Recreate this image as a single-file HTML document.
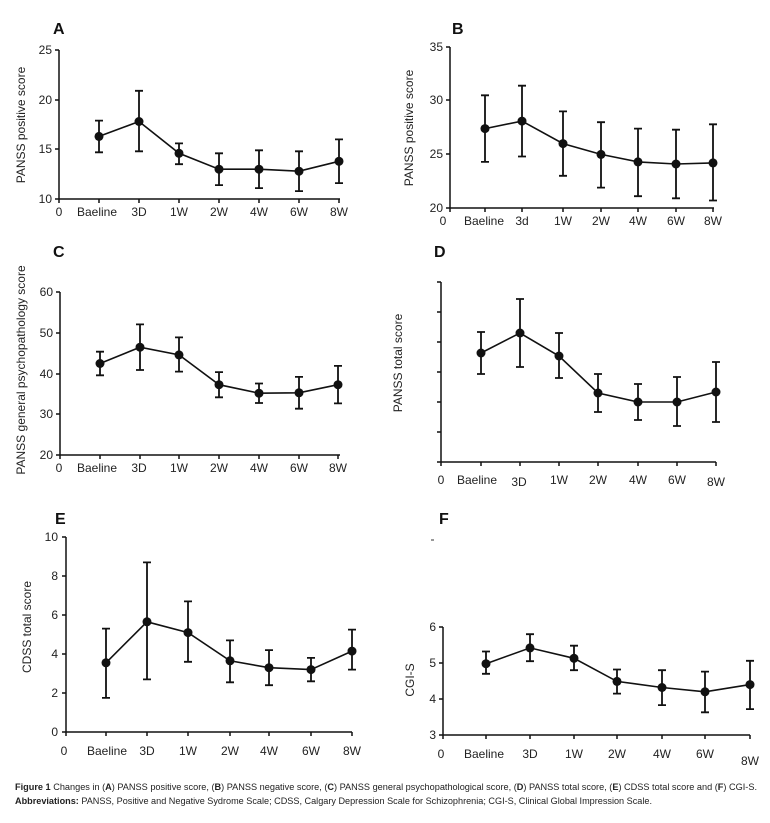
<!DOCTYPE html>
<html><head><meta charset="utf-8"><style>
html,body{margin:0;padding:0;background:#fff;}
svg{display:block;font-family:"Liberation Sans",Arial,sans-serif;}
.t{font-size:12px;fill:#222;}
.ax{stroke:#111;stroke-width:1.5;fill:none;}
.ln{stroke:#111;stroke-width:1.6;fill:none;}
.eb{stroke:#111;stroke-width:1.8;fill:none;}
.lab{font-size:16px;font-weight:bold;fill:#111;}
.yt{font-size:12px;fill:#222;}
</style></head><body>
<svg width="770" height="823" viewBox="0 0 770 823" xmlns="http://www.w3.org/2000/svg">
<rect width="770" height="823" fill="#fff"/>

<!-- A -->
<text class="lab" x="53" y="34">A</text>
<path class="ax" d="M59,50V199H340M55,50H59M55,100H59M55,149H59M55,199H59M59,199v4M99,199v4M139,199v4M179,199v4M219,199v4M259,199v4M299,199v4M339,199v4"/>
<g class="t" text-anchor="end"><text x="52" y="54">25</text><text x="52" y="104">20</text><text x="52" y="153">15</text><text x="52" y="203">10</text></g>
<g class="t" text-anchor="middle"><text x="59" y="216">0</text><text x="97" y="216">Baeline</text><text x="139" y="216">3D</text><text x="179" y="216">1W</text><text x="219" y="216">2W</text><text x="259" y="216">4W</text><text x="299" y="216">6W</text><text x="339" y="216">8W</text></g>
<text class="yt" transform="translate(25,125) rotate(-90)" text-anchor="middle">PANSS positive score</text>
<path class="eb" d="M99,120.6V152.3M95,120.6h8M95,152.3h8 M139,90.8V151.3M135,90.8h8M135,151.3h8 M179,143.4V164.2M175,143.4h8M175,164.2h8 M219,153.3V185.1M215,153.3h8M215,185.1h8 M259,150.3V188.1M255,150.3h8M255,188.1h8 M299,151.3V191.1M295,151.3h8M295,191.1h8 M339,139.4V183.1M335,139.4h8M335,183.1h8"/>
<polyline class="ln" points="99,136.4 139,121.5 179,153.3 219,169.2 259,169.2 299,171.2 339,161.3"/>
<g fill="#111"><circle cx="99" cy="136.4" r="4.5"/><circle cx="139" cy="121.5" r="4.5"/><circle cx="179" cy="153.3" r="4.5"/><circle cx="219" cy="169.2" r="4.5"/><circle cx="259" cy="169.2" r="4.5"/><circle cx="299" cy="171.2" r="4.5"/><circle cx="339" cy="161.3" r="4.5"/></g>

<!-- B -->
<text class="lab" x="452" y="34">B</text>
<path class="ax" d="M450,47V208H714M446,47H450M446,100H450M446,154H450M446,208H450M450,208v4M485,208v4M522,208v4M563,208v4M601,208v4M638,208v4M676,208v4M713,208v4"/>
<g class="t" text-anchor="end"><text x="443" y="51">35</text><text x="443" y="104">30</text><text x="443" y="158">25</text><text x="443" y="212">20</text></g>
<g class="t" text-anchor="middle"><text x="443" y="225">0</text><text x="484" y="225">Baeline</text><text x="522" y="225">3d</text><text x="563" y="225">1W</text><text x="601" y="225">2W</text><text x="638" y="225">4W</text><text x="676" y="225">6W</text><text x="713" y="225">8W</text></g>
<text class="yt" transform="translate(413,128) rotate(-90)" text-anchor="middle">PANSS positive score</text>
<path class="eb" d="M485,95.3V161.9M481,95.3h8M481,161.9h8 M522,85.7V156.5M518,85.7h8M518,156.5h8 M563,111.4V175.8M559,111.4h8M559,175.8h8 M601,122.2V187.6M597,122.2h8M597,187.6h8 M638,128.6V196.2M634,128.6h8M634,196.2h8 M676,129.7V198.3M672,129.7h8M672,198.3h8 M713,124.3V200.5M709,124.3h8M709,200.5h8"/>
<polyline class="ln" points="485,128.6 522,121.1 563,143.6 601,154.4 638,161.9 676,164 713,162.9"/>
<g fill="#111"><circle cx="485" cy="128.6" r="4.5"/><circle cx="522" cy="121.1" r="4.5"/><circle cx="563" cy="143.6" r="4.5"/><circle cx="601" cy="154.4" r="4.5"/><circle cx="638" cy="161.9" r="4.5"/><circle cx="676" cy="164" r="4.5"/><circle cx="713" cy="162.9" r="4.5"/></g>

<!-- C -->
<text class="lab" x="53" y="257">C</text>
<path class="ax" d="M60,292V455H340M56,292H60M56,333H60M56,374H60M56,414H60M56,455H60M60,455v4M100,455v4M140,455v4M179,455v4M219,455v4M259,455v4M299,455v4M338,455v4"/>
<g class="t" text-anchor="end"><text x="53" y="296">60</text><text x="53" y="337">50</text><text x="53" y="378">40</text><text x="53" y="418">30</text><text x="53" y="459">20</text></g>
<g class="t" text-anchor="middle"><text x="59" y="472">0</text><text x="97" y="472">Baeline</text><text x="139" y="472">3D</text><text x="179" y="472">1W</text><text x="219" y="472">2W</text><text x="259" y="472">4W</text><text x="299" y="472">6W</text><text x="338" y="472">8W</text></g>
<text class="yt" transform="translate(25,370) rotate(-90)" text-anchor="middle">PANSS general psychopathology score</text>
<path class="eb" d="M100,351.7V375.3M96,351.7h8M96,375.3h8 M140,324.4V370M136,324.4h8M136,370h8 M179,337.4V371.6M175,337.4h8M175,371.6h8 M219,372.1V397.3M215,372.1h8M215,397.3h8 M259,383.5V403M255,383.5h8M255,403h8 M299,376.9V408.7M295,376.9h8M295,408.7h8 M338,365.9V403.4M334,365.9h8M334,403.4h8"/>
<polyline class="ln" points="100,363.5 140,347.2 179,354.9 219,384.7 259,393.2 299,392.8 338,384.7"/>
<g fill="#111"><circle cx="100" cy="363.5" r="4.5"/><circle cx="140" cy="347.2" r="4.5"/><circle cx="179" cy="354.9" r="4.5"/><circle cx="219" cy="384.7" r="4.5"/><circle cx="259" cy="393.2" r="4.5"/><circle cx="299" cy="392.8" r="4.5"/><circle cx="338" cy="384.7" r="4.5"/></g>

<!-- D -->
<text class="lab" x="434" y="257">D</text>
<path class="ax" d="M441,282V462H716M437,282H441M437,312H441M437,342H441M437,372H441M437,402H441M437,432H441M437,462H441M441,462v4M481,462v4M520,462v4M559,462v4M598,462v4M638,462v4M677,462v4M716,462v4"/>
<g class="t" text-anchor="middle"><text x="441" y="484">0</text><text x="477" y="484">Baeline</text><text x="519" y="486">3D</text><text x="559" y="484">1W</text><text x="598" y="484">2W</text><text x="638" y="484">4W</text><text x="677" y="484">6W</text><text x="716" y="486">8W</text></g>
<text class="yt" transform="translate(402,363) rotate(-90)" text-anchor="middle">PANSS total score</text>
<path class="eb" d="M481,332V374M477,332h8M477,374h8 M520,299V367M516,299h8M516,367h8 M559,333V378M555,333h8M555,378h8 M598,374V412M594,374h8M594,412h8 M638,384V420M634,384h8M634,420h8 M677,377V426M673,377h8M673,426h8 M716,362V422M712,362h8M712,422h8"/>
<polyline class="ln" points="481,353 520,333 559,356 598,393 638,402 677,402 716,392"/>
<g fill="#111"><circle cx="481" cy="353" r="4.5"/><circle cx="520" cy="333" r="4.5"/><circle cx="559" cy="356" r="4.5"/><circle cx="598" cy="393" r="4.5"/><circle cx="638" cy="402" r="4.5"/><circle cx="677" cy="402" r="4.5"/><circle cx="716" cy="392" r="4.5"/></g>

<!-- E -->
<text class="lab" x="55" y="524">E</text>
<path class="ax" d="M66,537V732H352M62,537H66M62,576H66M62,615H66M62,654H66M62,693H66M62,732H66M66,732v4M106,732v4M147,732v4M188,732v4M230,732v4M269,732v4M311,732v4M352,732v4"/>
<g class="t" text-anchor="end"><text x="58" y="541">10</text><text x="58" y="580">8</text><text x="58" y="619">6</text><text x="58" y="658">4</text><text x="58" y="697">2</text><text x="58" y="736">0</text></g>
<g class="t" text-anchor="middle"><text x="64" y="755">0</text><text x="107" y="755">Baeline</text><text x="147" y="755">3D</text><text x="188" y="755">1W</text><text x="230" y="755">2W</text><text x="269" y="755">4W</text><text x="311" y="755">6W</text><text x="352" y="755">8W</text></g>
<text class="yt" transform="translate(31,627) rotate(-90)" text-anchor="middle">CDSS total score</text>
<path class="eb" d="M106,628.6V697.9M102,628.6h8M102,697.9h8 M147,562.4V679.4M143,562.4h8M143,679.4h8 M188,601.4V661.8M184,601.4h8M184,661.8h8 M230,640.4V682.3M226,640.4h8M226,682.3h8 M269,650.1V685.2M265,650.1h8M265,685.2h8 M311,657.9V681.3M307,657.9h8M307,681.3h8 M352,629.6V669.6M348,629.6h8M348,669.6h8"/>
<polyline class="ln" points="106,662.8 147,621.8 188,632.6 230,660.8 269,667.7 311,669.6 352,651.1"/>
<g fill="#111"><circle cx="106" cy="662.8" r="4.5"/><circle cx="147" cy="621.8" r="4.5"/><circle cx="188" cy="632.6" r="4.5"/><circle cx="230" cy="660.8" r="4.5"/><circle cx="269" cy="667.7" r="4.5"/><circle cx="311" cy="669.6" r="4.5"/><circle cx="352" cy="651.1" r="4.5"/></g>

<!-- F -->
<text class="lab" x="439" y="524">F</text>
<path d="M431,540h3" stroke="#333" stroke-width="1"/>
<path class="ax" d="M443,627V735H750M439,627H443M439,663H443M439,699H443M439,735H443M443,735v4M486,735v4M530,735v4M574,735v4M617,735v4M662,735v4M705,735v4M750,735v4"/>
<g class="t" text-anchor="end"><text x="436" y="631">6</text><text x="436" y="667">5</text><text x="436" y="703">4</text><text x="436" y="739">3</text></g>
<g class="t" text-anchor="middle"><text x="441" y="758">0</text><text x="484" y="758">Baeline</text><text x="530" y="758">3D</text><text x="574" y="758">1W</text><text x="617" y="758">2W</text><text x="662" y="758">4W</text><text x="705" y="758">6W</text><text x="750" y="765">8W</text></g>
<text class="yt" transform="translate(414,680) rotate(-90)" text-anchor="middle">CGI-S</text>
<path class="eb" d="M486,651.5V673.8M482,651.5h8M482,673.8h8 M530,634.2V661.2M526,634.2h8M526,661.2h8 M574,645.7V670.2M570,645.7h8M570,670.2h8 M617,669.5V693.6M613,669.5h8M613,693.6h8 M662,670.2V705.1M658,670.2h8M658,705.1h8 M705,671.6V712.3M701,671.6h8M701,712.3h8 M750,660.8V709.1M746,660.8h8M746,709.1h8"/>
<polyline class="ln" points="486,663.7 530,647.9 574,658.3 617,681.4 662,687.5 705,691.8 750,684.6"/>
<g fill="#111"><circle cx="486" cy="663.7" r="4.5"/><circle cx="530" cy="647.9" r="4.5"/><circle cx="574" cy="658.3" r="4.5"/><circle cx="617" cy="681.4" r="4.5"/><circle cx="662" cy="687.5" r="4.5"/><circle cx="705" cy="691.8" r="4.5"/><circle cx="750" cy="684.6" r="4.5"/></g>

<!-- caption -->
<text x="15" y="790" font-size="9" fill="#222" textLength="742" lengthAdjust="spacingAndGlyphs"><tspan font-weight="bold">Figure 1</tspan> Changes in (<tspan font-weight="bold">A</tspan>) PANSS positive score, (<tspan font-weight="bold">B</tspan>) PANSS negative score, (<tspan font-weight="bold">C</tspan>) PANSS general psychopathological score, (<tspan font-weight="bold">D</tspan>) PANSS total score, (<tspan font-weight="bold">E</tspan>) CDSS total score and (<tspan font-weight="bold">F</tspan>) CGI-S.</text>
<text x="15" y="804" font-size="9" fill="#222" textLength="637" lengthAdjust="spacingAndGlyphs"><tspan font-weight="bold">Abbreviations:</tspan> PANSS, Positive and Negative Sydrome Scale; CDSS, Calgary Depression Scale for Schizophrenia; CGI-S, Clinical Global Impression Scale.</text>
</svg>
</body></html>
